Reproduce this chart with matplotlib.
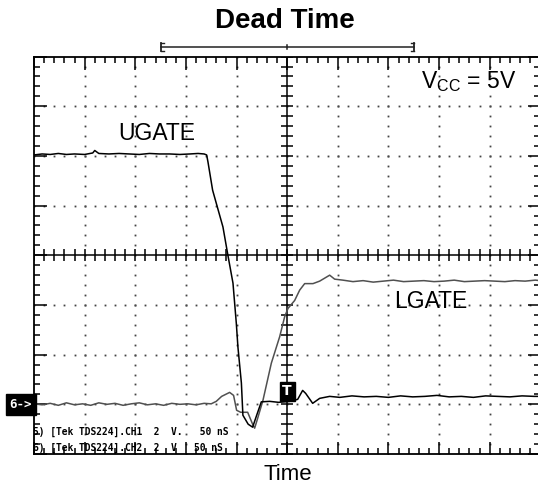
import numpy as np
import matplotlib
matplotlib.use("Agg")
import matplotlib.pyplot as plt

plt.rcParams['font.family'] = ['Liberation Sans', 'DejaVu Sans']
plt.rcParams['mathtext.default'] = 'regular'

# ---- data (time in ns, amplitude in screen divisions) ----
ugate_t = [-250, -242, -234, -226, -218, -210, -200, -192, -190, -186,
           -176, -166, -156, -146, -136, -126, -116, -106, -96, -88,
           -82, -79.5, -78.2, -73.6, -63.4, -58.5, -53.5, -50.2, -48.6, -45.2,
           -43.7, -38.5, -34.1, -30.1, -25.5, -17.3, -8.4, 2.5, 10.4, 15.3,
           18.3, 25.2, 32.1, 42, 52, 64, 76, 88, 100, 112,
           124, 136, 148, 160, 172, 184, 196, 208, 220, 232,
           244, 250]
ugate_v = [2.02, 2.04, 2.03, 2.05, 2.03, 2.04, 2.03, 2.06, 2.11, 2.05,
           2.04, 2.05, 2.04, 2.03, 2.05, 2.04, 2.04, 2.03, 2.04, 2.05,
           2.04, 2.02, 1.88, 1.31, 0.57, 0.0, -0.56, -1.37, -1.85, -2.57,
           -3.22, -3.40, -3.46, -3.22, -2.95, -2.94, -2.96, -2.94, -2.90, -2.72,
           -2.78, -2.98, -2.88, -2.84, -2.86, -2.83, -2.85, -2.84, -2.86, -2.83,
           -2.85, -2.84, -2.82, -2.85, -2.84, -2.86, -2.83, -2.84, -2.85, -2.83,
           -2.84, -2.84]

lgate_t = [-250, -242, -234, -226, -218, -210, -202, -194, -186, -178,
           -170, -162, -154, -146, -138, -130, -122, -114, -106, -98,
           -90, -82, -75, -70, -64.7, -56.8, -52.9, -49.9, -45.9, -39,
           -34.1, -32.1, -29.1, -23.9, -15.6, -7.4, -2.5, 0.8, 7.4, 12.4,
           17.3, 25.5, 32.1, 38.7, 42, 46.9, 55, 65, 75, 85,
           95, 105, 115, 125, 135, 145, 155, 165, 175, 185,
           195, 205, 215, 225, 235, 245, 250]
lgate_v = [-2.99, -3.01, -2.98, -3.02, -2.97, -3.01, -2.99, -3.02, -2.97, -3.00,
           -2.98, -3.02, -2.99, -2.97, -3.01, -2.99, -3.02, -2.98, -3.00, -2.99,
           -3.01, -2.98, -2.99, -2.94, -2.84, -2.76, -2.82, -3.12, -3.16, -3.16,
           -3.40, -3.48, -3.28, -2.92, -2.17, -1.64, -1.24, -1.07, -0.91, -0.70,
           -0.57, -0.57, -0.52, -0.44, -0.40, -0.48, -0.50, -0.53, -0.51, -0.54,
           -0.52, -0.50, -0.53, -0.52, -0.51, -0.53, -0.52, -0.50, -0.53, -0.52,
           -0.51, -0.52, -0.53, -0.51, -0.52, -0.50, -0.51]

dead_start, dead_end = -125, 125
ch2_ref = -3.0
trig_level = -2.74
ch_lines = ["5) [Tek TDS224].CH1  2  V.   50 nS",
            "6) [Tek TDS224].CH2  2  V   50 nS"]

W, H = 538, 491
fig = plt.figure(figsize=(W / 100, H / 100), dpi=100)
fig.patch.set_facecolor('white')
L, R, T, B = 34, 540.3, 56.6, 454
ax = fig.add_axes([L / W, 1 - B / H, (R - L) / W, (B - T) / H])
ax.set_xlim(-250, 250)
ax.set_ylim(-4, 4)

# graticule dots
xs_minor = np.arange(-250, 251, 10)
ys_minor = np.arange(-4, 4.01, 0.2)
for gx in np.arange(-200, 201, 50):
    if gx != 0:
        ax.plot(np.full(len(ys_minor), gx), ys_minor, ls='none', marker='s',
                ms=1.3, mew=0, color='#444444', zorder=1)
for gy in np.arange(-3, 4, 1):
    if gy != 0:
        ax.plot(xs_minor, np.full(len(xs_minor), gy), ls='none', marker='s',
                ms=1.3, mew=0, color='#444444', zorder=1)

# center cross with ticks
ax.axhline(0, color='black', lw=1.1, zorder=2)
ax.axvline(0, color='black', lw=1.1, zorder=2)
ax.plot(np.zeros(len(ys_minor)), ys_minor, ls='none', marker='_', ms=8, mew=1.1,
        color='black', zorder=2)
ax.plot(xs_minor, np.zeros(len(xs_minor)), ls='none', marker='|', ms=8, mew=1.1,
        color='black', zorder=2)

# border ticks
ax.set_xticks(np.arange(-250, 251, 50))
ax.set_xticks(xs_minor, minor=True)
ax.set_yticks(np.arange(-4, 5, 1))
ax.set_yticks(ys_minor, minor=True)
ax.tick_params(which='both', direction='in', top=True, right=True,
               labelbottom=False, labelleft=False, color='black', width=1.1)
ax.tick_params(which='major', length=9)
ax.tick_params(which='minor', length=4)
for sp in ax.spines.values():
    sp.set_linewidth(1.3)
    sp.set_color('black')

# traces
ax.plot(lgate_t, lgate_v, color='#505050', lw=1.1, zorder=3)
ax.plot(ugate_t, ugate_v, color='black', lw=1.1, zorder=4)

# dead time bracket
by = 4.193
cap = 0.085
bc = '#222222'
ax.plot([dead_start, dead_end], [by, by], color=bc, lw=1.1, clip_on=False)
ax.plot([dead_start, dead_start], [by - cap, by + cap], color=bc, lw=1.3, clip_on=False)
ax.plot([dead_start, dead_start + 3], [by + cap, by + cap], color=bc, lw=1, clip_on=False)
ax.plot([dead_start, dead_start + 3], [by - cap, by - cap], color=bc, lw=1, clip_on=False)
ax.plot([dead_end, dead_end], [by - cap, by + cap], color=bc, lw=1.3, clip_on=False)
ax.plot([dead_end - 3, dead_end], [by + cap, by + cap], color=bc, lw=1, clip_on=False)
ax.plot([dead_end - 3, dead_end], [by - cap, by - cap], color=bc, lw=1, clip_on=False)
ax.plot([0, 0], [by - 0.05, by + 0.05], color=bc, lw=1.1, clip_on=False)

# texts
fig.text(284.7 / W, 1 - 21.5 / H, 'Dead Time', fontsize=20, fontweight='bold',
         ha='center', va='center')
fig.text(420.7 / W, 1 - 88 / H, r'V$_{CC}$ = 5V', fontsize=16.5, ha='left',
         va='baseline')
fig.text(156.7 / W, 1 - 134 / H, 'UGATE', fontsize=16.5, ha='center', va='center')
fig.text(431 / W, 1 - 301 / H, 'LGATE', fontsize=16.5, ha='center', va='center')
fig.text(287.5 / W, 1 - 475 / H, 'Time', fontsize=16, ha='center', va='center')

# channel-2 reference marker, placed at the ch2 ground level just left of the axes
ax.annotate('6->', xy=(0, ch2_ref), xycoords=('axes fraction', 'data'),
            xytext=(-9.5, 0), textcoords='offset points', fontsize=9,
            family='DejaVu Sans Mono', fontweight='bold', color='white',
            ha='center', va='center', annotation_clip=False,
            bbox=dict(boxstyle='square,pad=0.3', fc='black', ec='black'))

ax.text(0, trig_level, 'T', fontsize=10, fontweight='bold', color='white',
        family='DejaVu Sans', ha='center', va='center', zorder=6,
        bbox=dict(boxstyle='square,pad=0.2', fc='black', ec='black'))

for i, line in enumerate(ch_lines):
    ax.text(-251, -3.556 - 0.327 * i, line, fontsize=6.9, fontweight='bold',
            family='DejaVu Sans Mono', ha='left', va='center', clip_on=True,
            zorder=5)

fig.savefig('out.png', dpi=100)
